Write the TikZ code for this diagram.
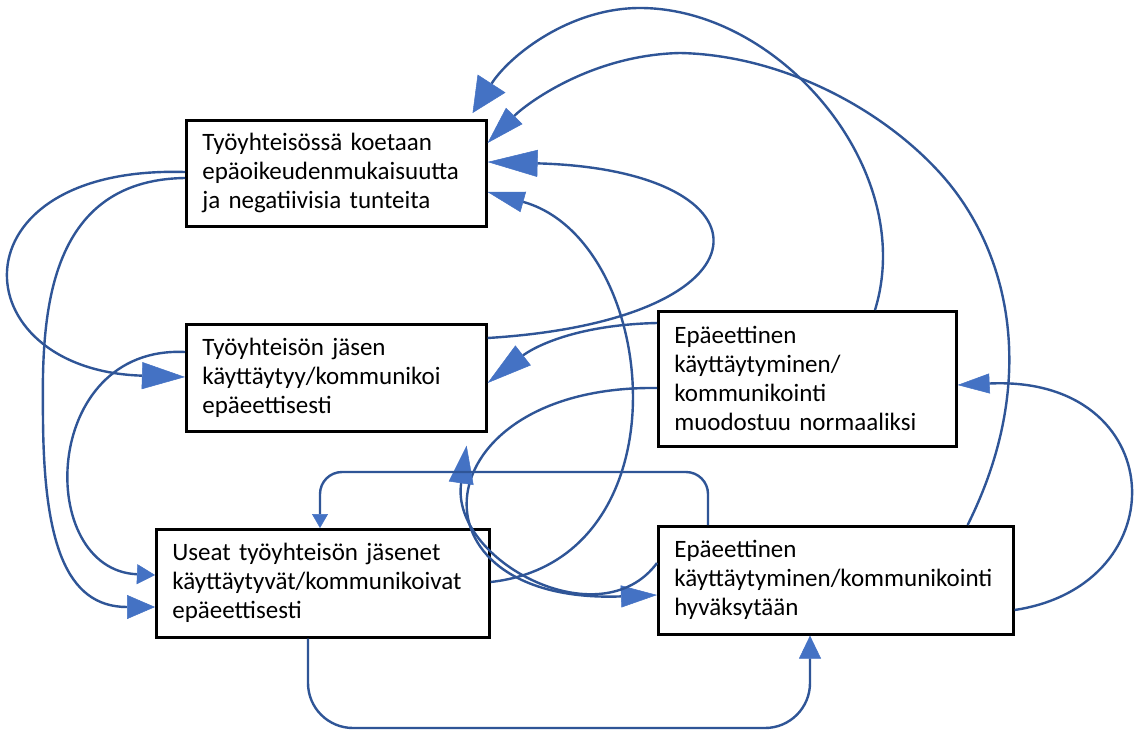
\documentclass[tikz,border=0pt]{standalone}
\usepackage{fontspec}
\setmainfont{Carlito}
\usetikzlibrary{arrows.meta,calc}
\definecolor{linkblue}{HTML}{2F5597}
\definecolor{tipblue}{HTML}{4472C4}
\tikzset{
  box/.style={draw=black, line width=2.6pt, rectangle, anchor=north west, align=left,
    inner xsep=16pt, inner ysep=0pt, font=\fontsize{25}{29}\selectfont},
  link/.style={draw=linkblue, line width=2.4pt},
  arr/.style 2 args={-{Triangle[length=#1pt,width=#2pt,line width=0.5pt,color=tipblue]}}
}
\begin{document}
\begin{tikzpicture}[x=1pt,y=-1pt]
\useasboundingbox[fill=white] (0,0) rectangle (1135,736);
% boxes
\node[box, text width=268pt, minimum height=106pt] (A) at (185,119)
  {Työyhteisössä koetaan\\epäoikeudenmukaisuutta\\ja negatiivisia tunteita};
\node[box, text width=268pt, minimum height=107pt] (B) at (185,323)
  {Työyhteisön jäsen\\käyttäytyy/kommunikoi\\epäeettisesti};
\node[box, text width=301pt, minimum height=108pt] (C) at (155,528)
  {Useat työyhteisön jäsenet\\käyttäytyvät/kommunikoivat\\epäeettisesti};
\node[box, text width=266pt, minimum height=135pt] (D) at (657,310)
  {Epäeettinen\\käyttäytyminen/\\kommunikointi\\muodostuu normaaliksi};
\node[box, text width=323pt, minimum height=108pt] (E) at (657,525)
  {Epäeettinen\\käyttäytyminen/kommunikointi\\hyväksytään};
% connectors on the left
\draw[link, arr={43}{27}] (A.west |- 0,172) .. controls (-50,165) and (-40,370) .. (B.west |- 0,377);
\draw[link, arr={28}{24}] (A.west |- 0,178) .. controls (40,180) and (42,330) .. (43,420)
  .. controls (44,540) and (65,607) .. (C.west |- 0,607);
\draw[link, arr={18}{20}] (B.west |- 0,352) .. controls (40,345) and (35,570) .. (C.west |- 0,575);
% connectors into A from the right
\draw[link, arr={50}{27}] (B.east |- 0,338) .. controls (780,320) and (780,170) .. (A.east |- 0,162);
\draw[link, arr={37}{21}] (C.east |- 0,582) .. controls (690,560) and (660,240) .. (A.east |- 0,192);
\draw[link, arr={35}{33}] (D.north -| 875,0) .. controls (918,170) and (780,8) .. (640,8)
  .. controls (570,8) and (510,55) .. ($(A.north east)+(-15,-6)$);
\draw[link, arr={38}{23}] ($(E.north east)+(-47,0)$) .. controls (1040,380) and (1010,250) .. (940,173)
  .. controls (880,107) and (780,55) .. (680,53) .. controls (590,55) and (525,105) .. (A.east |- 0,143);
% middle connectors
\draw[link, arr={45}{25}] (D.west |- 0,323) .. controls (570,325) and (530,350) .. (B.east |- 0,383);
\draw[link, arr={36}{22}] (D.west |- 0,388) .. controls (420,385) and (400,605) .. (E.west |- 0,595);
\draw[link, arr={38}{25}] (E.west |- 0,563) .. controls (600,640) and (450,560) .. ($(B.south east)+(-21,13)$);
\draw[link, arr={14}{16}, rounded corners=22pt] (E.north -| 708,0) -- (708,472) -- (320,472) -- (C.north -| 320,0);
\draw[link, arr={23}{22}, rounded corners=45pt] (C.south -| 308,0) -- (308,728) -- (810,728) -- (E.south -| 810,0);
% right loop
\draw[link, arr={32}{20}] (E.east |- 0,610) .. controls (1180,585) and (1170,375) .. (D.east |- 0,385);
\end{tikzpicture}
\end{document}
